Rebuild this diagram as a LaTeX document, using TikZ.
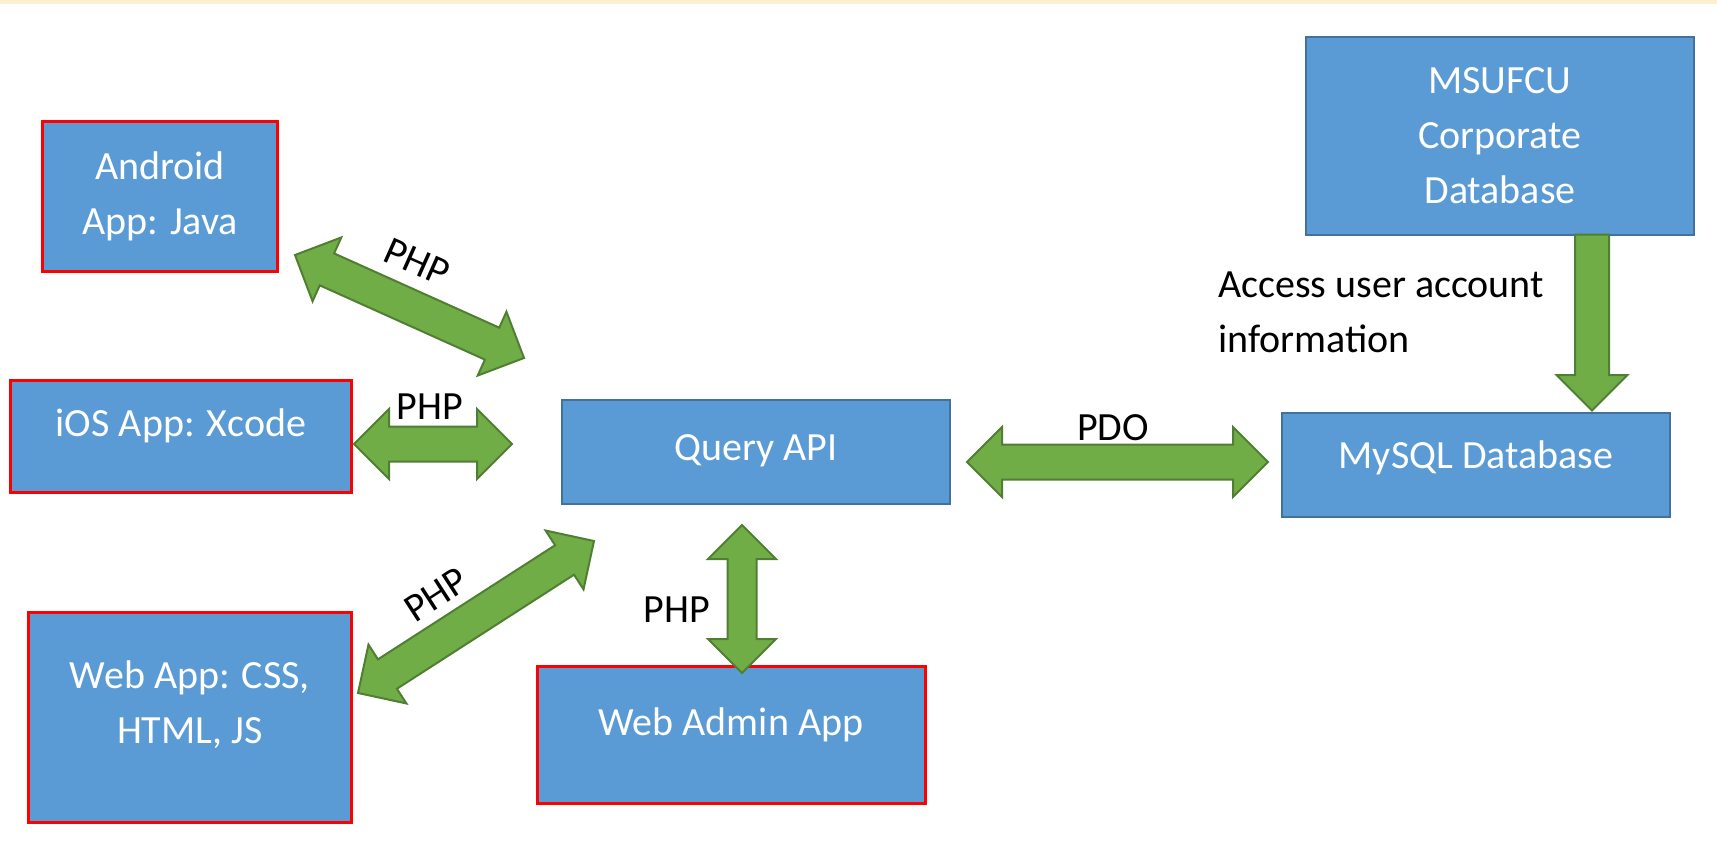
\documentclass[tikz,border=0pt]{standalone}
\usepackage{fontspec}
\setmainfont{Carlito}
\usepackage{tikz}
\usetikzlibrary{calc,shapes.arrows,positioning}
\definecolor{myblue}{RGB}{91,155,213}
\definecolor{mydarkblue}{RGB}{65,113,156}
\definecolor{mygreen}{RGB}{112,173,71}
\definecolor{mydarkgreen}{RGB}{80,126,50}
\definecolor{mybeige}{RGB}{253,240,208}
\tikzstyle{appbox}=[draw=red,line width=3pt,fill=myblue,text=white,align=center,inner sep=0pt]
\tikzstyle{dbbox}=[draw=mydarkblue,line width=2pt,fill=myblue,text=white,align=center,inner sep=0pt]
\tikzstyle{oneline}=[text height=26pt,text depth=26pt]
\tikzstyle{fatarrow}=[double arrow,draw=mydarkgreen,line width=2pt,fill=mygreen,inner xsep=0pt,inner ysep=16.5pt,minimum width=0pt,double arrow head extend=17.5pt,double arrow tip angle=90]
\tikzstyle{thinarrow}=[fatarrow,inner ysep=13.5pt,double arrow head extend=19.5pt]
\tikzstyle{downarrow}=[single arrow,draw=mydarkgreen,line width=2pt,fill=mygreen,inner xsep=0pt,inner ysep=16pt,minimum width=0pt,single arrow head extend=18.5pt,single arrow tip angle=90]
\tikzstyle{linklabel}=[inner sep=0pt]
% block arrow between two named points
\newcommand{\blockarrow}[4][fatarrow]{%
  \path let \p1=($(#4)-(#3)$), \n1={veclen(\x1,\y1)}, \n2={atan2(\y1,\x1)} in
    node[#1,minimum height=\n1,rotate=\n2] (#2) at ($(#3)!0.5!(#4)$) {};}

\begin{document}
\begin{tikzpicture}[x=1pt,y=-1pt,font=\fontsize{40}{55}\selectfont]
\useasboundingbox (0,0) rectangle (1717,854);
\fill[mybeige] (0,0) rectangle (1717,4);

\draw (160,196) node [appbox, minimum width=235pt, minimum height=150pt] (android) {Android\\App: Java};
\draw (181,436) node [appbox, oneline, minimum width=341pt, minimum height=112pt] (ios) {iOS App: Xcode};
\draw (190,717) node [appbox, text depth=30pt, minimum width=323pt, minimum height=210pt] (webapp) {Web App: CSS,\\HTML, JS};
\draw (731,735) node [appbox, oneline, minimum width=388pt, minimum height=137pt] (webadmin) {Web Admin App};
\draw (756,452) node [dbbox, oneline, text depth=10pt, minimum width=388pt, minimum height=104pt] (queryapi) {Query API};
\draw (1476,465) node [dbbox, oneline, text depth=20pt, minimum width=388pt, minimum height=104pt] (mysql) {MySQL Database};
\draw (1500,136) node [dbbox, minimum width=388pt, minimum height=198pt] (msufcu) {MSUFCU\\Corporate\\Database};

\coordinate (a1) at (295,255); \coordinate (a2) at (524,358);
\coordinate (i1) at (354,444); \coordinate (i2) at (512,444);
\coordinate (w1) at (358,693); \coordinate (w2) at (594,541);
\coordinate (d1) at (742,525); \coordinate (d2) at (742,673);
\coordinate (p1) at (967,462); \coordinate (p2) at (1268,462);
\coordinate (m1) at (1592,226); \coordinate (m2) at (1592,402);

\blockarrow{androidlink}{a1}{a2}
\blockarrow{ioslink}{i1}{i2}
\blockarrow{weblink}{w1}{w2}
\blockarrow[thinarrow]{adminlink}{d1}{d2}
\blockarrow{pdolink}{p1}{p2}
\blockarrow[downarrow]{corplink}{m1}{m2}

\draw (417,262) node [linklabel, rotate=-24] (androidphp) {PHP};
\draw (430,407) node [linklabel] (iosphp) {PHP};
\draw (436,595) node [linklabel, rotate=33] (webphp) {PHP};
\draw (677,610) node [linklabel] (adminphp) {PHP};
\draw (1113,428) node [linklabel] (pdo) {PDO};
\draw (1218,272) node [linklabel, anchor=north west, align=left] (access) {Access user account\\information};
\end{tikzpicture}
\end{document}
